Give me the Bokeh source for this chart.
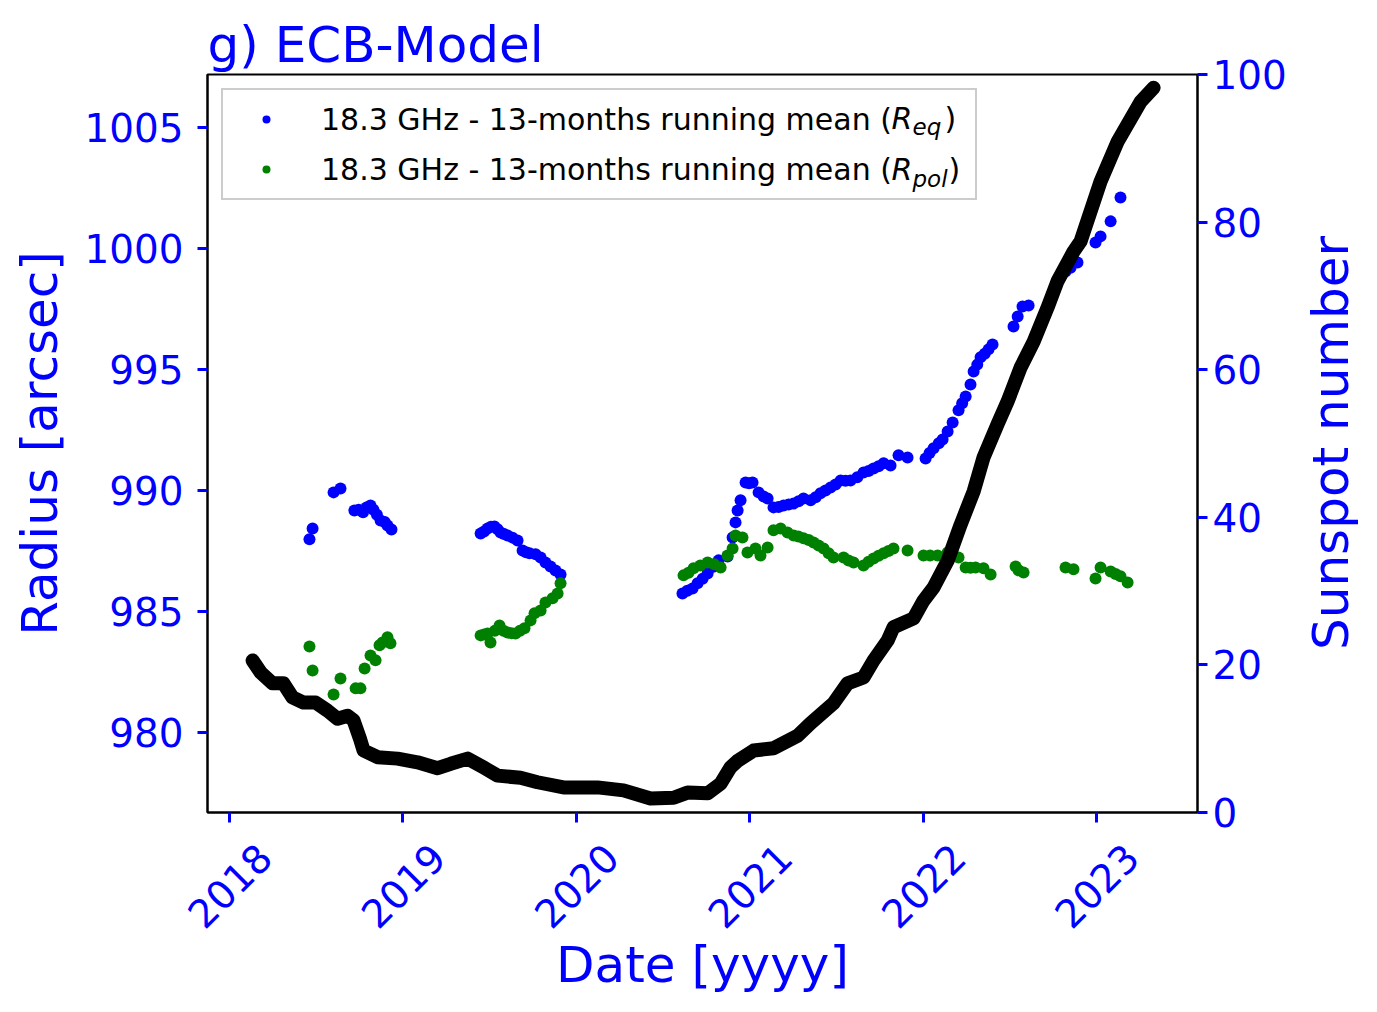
import numpy as np
from bokeh.plotting import figure
from bokeh.layouts import row
from bokeh.models import Range1d, LinearAxis, Legend, LegendItem, FixedTicker, Label, PrintfTickFormatter, Div
from bokeh.embed import file_html
from bokeh.resources import INLINE

# ---------------- data ----------------
req_year = [2018.461, 2018.479, 2018.600, 2018.640, 2018.720, 2018.745, 2018.770, 2018.790, 2018.813, 2018.830, 2018.850, 2018.871, 2018.895, 2018.911, 2018.934,
            2019.448, 2019.468, 2019.488, 2019.508, 2019.528, 2019.546, 2019.563, 2019.583, 2019.603, 2019.632, 2019.661, 2019.690, 2019.710, 2019.730, 2019.765, 2019.794, 2019.822, 2019.851, 2019.880, 2019.909,
            2020.612, 2020.640, 2020.670, 2020.699, 2020.728, 2020.757, 2020.790, 2020.820, 2020.872, 2020.901, 2020.918, 2020.930, 2020.947, 2020.976, 2020.996,
            2021.016, 2021.051, 2021.080, 2021.103, 2021.137, 2021.166, 2021.195, 2021.224, 2021.253, 2021.282, 2021.310, 2021.351, 2021.380, 2021.408, 2021.437, 2021.466, 2021.495, 2021.524, 2021.552, 2021.581, 2021.620, 2021.656, 2021.685, 2021.714, 2021.743, 2021.772, 2021.812, 2021.858, 2021.910,
            2022.014, 2022.037, 2022.060, 2022.090, 2022.112, 2022.141, 2022.170, 2022.204, 2022.225, 2022.245, 2022.273, 2022.291, 2022.312, 2022.331, 2022.355, 2022.377, 2022.400, 2022.521, 2022.545, 2022.573, 2022.608, 2022.821, 2022.850, 2022.890, 2022.994,
            2023.023, 2023.081, 2023.138]
req_radius = [987.98, 988.43, 989.92, 990.08, 989.17, 989.20, 989.10, 989.30, 989.38, 989.20, 989.00, 988.76, 988.70, 988.55, 988.39,
              988.22, 988.30, 988.43, 988.50, 988.51, 988.40, 988.26, 988.20, 988.14, 988.05, 987.93, 987.52, 987.45, 987.40, 987.36, 987.23, 987.02, 986.86, 986.69, 986.53,
              985.74, 985.85, 985.95, 986.16, 986.35, 986.57, 986.85, 987.11, 987.27, 988.06, 988.68, 989.17, 989.59, 990.33, 990.30,
              990.33, 989.92, 989.75, 989.67, 989.30, 989.32, 989.38, 989.42, 989.46, 989.55, 989.67, 989.59, 989.72, 989.88, 990.00, 990.12, 990.25, 990.41, 990.40, 990.41, 990.55, 990.74, 990.80, 990.91, 991.00, 991.12, 991.03, 991.45, 991.36,
              991.32, 991.55, 991.74, 991.95, 992.11, 992.44, 992.81, 993.31, 993.60, 993.88, 994.38, 994.92, 995.20, 995.50, 995.65, 995.83, 996.03, 996.78, 997.19, 997.60, 997.64, 999.05, 999.20, 999.42, 1000.25,
              1000.50, 1001.12, 1002.11]

rpol_year = [2018.461, 2018.479, 2018.600, 2018.640, 2018.727, 2018.755, 2018.779, 2018.813, 2018.842, 2018.865, 2018.882, 2018.911, 2018.928,
             2019.448, 2019.468, 2019.488, 2019.505, 2019.530, 2019.557, 2019.580, 2019.603, 2019.626, 2019.649, 2019.675, 2019.701, 2019.736, 2019.759, 2019.794, 2019.822, 2019.863, 2019.892, 2019.909,
             2020.618, 2020.647, 2020.676, 2020.715, 2020.757, 2020.795, 2020.832, 2020.872, 2020.901, 2020.918, 2020.958, 2020.987,
             2021.033, 2021.062, 2021.103, 2021.137, 2021.178, 2021.218, 2021.253, 2021.280, 2021.310, 2021.340, 2021.368, 2021.397, 2021.426, 2021.455, 2021.483, 2021.541, 2021.570, 2021.599, 2021.656, 2021.685, 2021.714, 2021.743, 2021.772, 2021.800, 2021.829, 2021.910,
             2022.002, 2022.040, 2022.083, 2022.141, 2022.170, 2022.204, 2022.245, 2022.273, 2022.302, 2022.348, 2022.389, 2022.533, 2022.550, 2022.579, 2022.821, 2022.867, 2022.994,
             2023.023, 2023.081, 2023.110, 2023.138, 2023.179]
rpol_radius = [983.55, 982.56, 981.57, 982.23, 981.82, 981.82, 982.64, 983.18, 982.98, 983.60, 983.72, 983.93, 983.68,
               984.01, 984.05, 984.09, 983.72, 984.20, 984.42, 984.20, 984.13, 984.10, 984.09, 984.20, 984.30, 984.63, 984.92, 985.04, 985.37, 985.54, 985.74, 986.16,
               986.49, 986.60, 986.78, 986.90, 987.02, 986.95, 986.82, 987.31, 987.60, 988.14, 988.06, 987.44,
               987.60, 987.31, 987.64, 988.35, 988.43, 988.26, 988.14, 988.10, 988.02, 987.95, 987.85, 987.72, 987.60, 987.40, 987.23, 987.23, 987.10, 987.02, 986.90, 987.05, 987.19, 987.30, 987.40, 987.50, 987.60, 987.52,
               987.31, 987.31, 987.31, 987.44, 987.35, 987.23, 986.82, 986.80, 986.82, 986.78, 986.53, 986.86, 986.70, 986.61, 986.82, 986.74, 986.36,
               986.82, 986.65, 986.55, 986.45, 986.20]

ssn_year = [2018.133, 2018.179, 2018.248, 2018.311, 2018.363, 2018.427, 2018.496, 2018.565, 2018.623, 2018.681, 2018.715, 2018.755, 2018.773, 2018.854, 2018.969,
            2019.084, 2019.200, 2019.275, 2019.373, 2019.465, 2019.546, 2019.678, 2019.776, 2019.926,
            2020.122, 2020.272, 2020.428, 2020.561, 2020.641, 2020.757, 2020.832, 2020.889, 2020.930,
            2021.022, 2021.137, 2021.276, 2021.351, 2021.483, 2021.564, 2021.656, 2021.714, 2021.795, 2021.829, 2021.945,
            2022.002, 2022.060, 2022.141, 2022.216, 2022.291, 2022.348, 2022.429, 2022.487, 2022.562, 2022.637, 2022.717, 2022.775, 2022.867, 2022.908,
            2023.023, 2023.121, 2023.254, 2023.329]
ssn_value = [20.6, 19.0, 17.5, 17.5, 15.6, 14.9, 14.9, 13.8, 12.7, 13.1, 12.5, 9.8, 8.4, 7.5, 7.3,
             6.8, 6.0, 6.6, 7.3, 6.1, 5.0, 4.7, 4.1, 3.4,
             3.4, 3.0, 1.9, 2.0, 2.7, 2.6, 3.9, 6.1, 7.0,
             8.4, 8.7, 10.4, 12.1, 14.8, 17.5, 18.3, 20.6, 23.3, 25.1, 26.3,
             28.7, 30.5, 34.1, 39.0, 43.5, 48.1, 52.6, 55.7, 60.3, 63.8, 68.4, 72.0, 76.0, 77.4,
             85.5, 90.9, 96.3, 98.2]

year_ticks = [2018, 2019, 2020, 2021, 2022, 2023]
radius_ticks = [980, 985, 990, 995, 1000, 1005]
ssn_ticks = [0, 20, 40, 60, 80, 100]

legend_text = "18.3 GHz - 13-months running mean ("
legend_subs = ["eq", "pol"]

# ---------------- figure ----------------
FONT = "DejaVu Sans"
BLUE = "#0000ff"
GREEN = "#008000"
FRAME_W = 990
FRAME_H = 738
PX_PER_YEAR = FRAME_W / (2023.582 - 2017.873)

p = figure(width=1296, height=1005, output_backend="svg", toolbar_location=None,
           x_range=Range1d(2017.873, 2023.582), y_range=Range1d(976.69, 1007.19),
           min_border_left=207, min_border_right=99, min_border_top=74, min_border_bottom=193,
           title="g) ECB-Model", margin=0)
p.extra_y_ranges = {"ssn": Range1d(0, 100)}
p.xgrid.visible = False
p.ygrid.visible = False
p.outline_line_color = "black"
p.outline_line_width = 2
p.background_fill_color = "white"
p.border_fill_color = "white"

p.title.text_font = FONT
p.title.text_font_size = "50px"
p.title.text_font_style = "normal"
p.title.text_color = BLUE
p.title.align = "left"
p.title.standoff = 2

r_eq = p.scatter(req_year, req_radius, size=12, color=BLUE, line_color=None)
r_pol = p.scatter(rpol_year, rpol_radius, size=12, color=GREEN, line_color=None)
r_ssn = p.line(ssn_year, ssn_value, y_range_name="ssn", line_width=14, line_color="black",
               line_join="round", line_cap="round")

def style_axis(ax, size="38.9px"):
    ax.axis_line_color = "black"
    ax.axis_line_width = 2
    ax.major_tick_line_color = BLUE
    ax.major_tick_line_width = 3
    ax.major_tick_out = 10
    ax.major_tick_in = 0
    ax.minor_tick_line_color = None
    ax.major_label_text_font = FONT
    ax.major_label_text_font_size = size
    ax.major_label_text_color = BLUE
    ax.axis_label_text_font = FONT
    ax.axis_label_text_font_size = "50px"
    ax.axis_label_text_font_style = "normal"
    ax.axis_label_text_color = BLUE

# x axis 1: tick marks only
xa = p.xaxis[0]
style_axis(xa)
xa.ticker = FixedTicker(ticks=year_ticks)
xa.major_label_overrides = {t: "" for t in year_ticks}
xa.major_label_standoff = 0

# x axis 2: rotated year labels, centred under the ticks like matplotlib (rotation=45, ha=center)
label_shift = 35.0 / PX_PER_YEAR
xb = LinearAxis(ticker=FixedTicker(ticks=[t + label_shift for t in year_ticks]),
                formatter=PrintfTickFormatter(format="%d"))
style_axis(xb)
xb.axis_line_color = None
xb.major_tick_line_color = None
xb.major_tick_out = 0
xb.major_label_orientation = np.pi / 4
xb.major_label_standoff = 28
xb.axis_label = "Date [yyyy]"
xb.axis_label_standoff = -8
p.add_layout(xb, "below")

ya = p.yaxis[0]
style_axis(ya)
ya.ticker = FixedTicker(ticks=radius_ticks)
ya.axis_label = "Radius [arcsec]"
ya.major_label_standoff = 14
ya.axis_label_standoff = 13

yr = LinearAxis(y_range_name="ssn", ticker=FixedTicker(ticks=ssn_ticks))
style_axis(yr)
yr.major_label_standoff = 5
p.add_layout(yr, "right")

PAD, SPACE, ROW_H = 10, 12, 39.5
legend = Legend(items=[LegendItem(label=legend_text, renderers=[r_eq]),
                       LegendItem(label=legend_text, renderers=[r_pol])],
                location="top_left", margin=14, padding=PAD, spacing=SPACE,
                glyph_width=66, glyph_height=20, label_height=38, label_width=644,
                label_standoff=22,
                label_text_font=FONT, label_text_font_size="30px", label_text_color="black",
                border_line_color="#cccccc", border_line_width=2, border_line_alpha=1.0,
                background_fill_alpha=0.0)
p.add_layout(legend)

# math-like "R_eq" / "R_pol" endings of the legend labels
row1 = FRAME_H - 14 - PAD - ROW_H / 2
row_y = [row1, row1 - ROW_H - SPACE]
x_R = 684
close_x = {"eq": 737, "pol": 741}
for yrow, sub in zip(row_y, legend_subs):
    p.add_layout(Label(x=x_R, y=yrow, x_units="screen", y_units="screen", text="R",
                       text_font=FONT, text_font_size="30px", text_font_style="italic",
                       text_color="black", text_baseline="middle", text_align="left"))
    p.add_layout(Label(x=x_R + 21, y=yrow - 9, x_units="screen", y_units="screen", text=sub,
                       text_font=FONT, text_font_size="23px", text_font_style="italic",
                       text_color="black", text_baseline="middle", text_align="left"))
    p.add_layout(Label(x=close_x[sub], y=yrow, x_units="screen", y_units="screen", text=")",
                       text_font=FONT, text_font_size="30px", text_color="black",
                       text_baseline="middle", text_align="left"))

# right-hand axis title, reading bottom-to-top as in the original
right_title = Div(text="Sunspot number", width=70, height=2 * (74 + FRAME_H // 2), margin=0,
                  styles={"writing-mode": "vertical-rl", "transform": "rotate(180deg)",
                          "font-family": FONT, "font-size": "50px", "color": BLUE,
                          "text-align": "center", "line-height": "70px", "white-space": "nowrap"})

page = row(p, right_title, spacing=0)
open("out.html", "w").write(file_html(page, INLINE))
